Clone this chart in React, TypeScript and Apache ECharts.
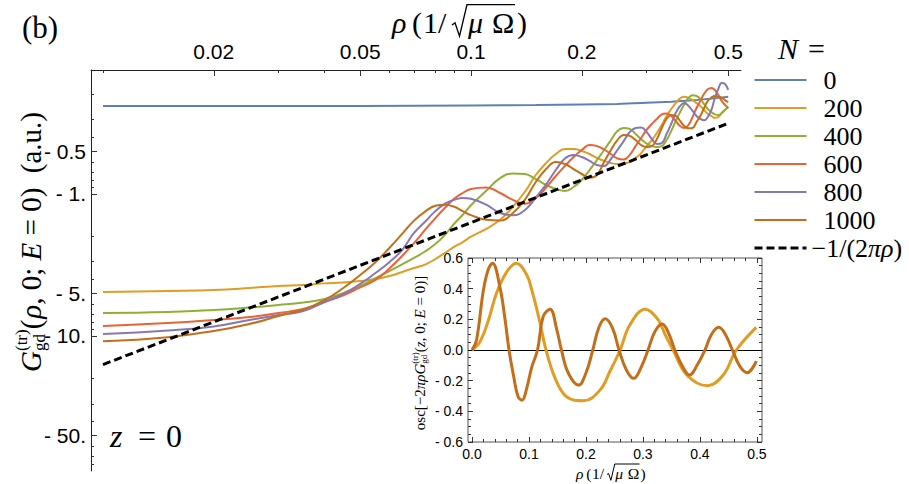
import React, { useEffect, useRef } from 'react';
import * as echarts from 'echarts';

const SERIF = "'Liberation Serif', 'Times New Roman', serif";
const SANS = "'Liberation Sans', Arial, sans-serif";

// ---------- data ----------
const N_NAMES = ['0', '200', '400', '600', '800', '1000'];
const N_COLORS = ['#5E81B5', '#E19C24', '#8FB032', '#EB6235', '#8778B3', '#C56E1A'];
const ASYM = '−1/(2πρ)';

// rho in units of 1/sqrt(mu Omega)
const rhoGrid = [0.01, 0.015, 0.02, 0.025, 0.03, 0.035, 0.04, 0.045, 0.05, 0.055, 0.06, 0.065, 0.07, 0.075, 0.08, 0.085, 0.09, 0.095,
  0.1, 0.11, 0.12, 0.13, 0.14, 0.15, 0.16, 0.17, 0.18, 0.19, 0.2, 0.21, 0.22, 0.23, 0.24, 0.25, 0.26, 0.27, 0.28, 0.29, 0.3,
  0.31, 0.32, 0.33, 0.34, 0.35, 0.36, 0.37, 0.38, 0.39, 0.4, 0.41, 0.42, 0.43, 0.44, 0.45, 0.46, 0.47, 0.48, 0.49, 0.5];

// |G| (a.u.), G is negative
const rhoN0 = [0.01, 0.05, 0.1, 0.15, 0.2, 0.25, 0.3, 0.35, 0.4, 0.45, 0.5];
const gN0 = [0.24, 0.24, 0.238, 0.236, 0.234, 0.232, 0.228, 0.224, 0.219, 0.213, 0.207];

const gN200 = [4.9, 4.82, 4.74, 4.59, 4.44, 4.37, 4.26, 4.2, 4.1, 3.97, 3.78, 3.54, 3.32, 3.14, 2.87, 2.6, 2.36, 2.18,
  2.0, 1.76, 1.52, 1.23, 0.968, 0.735, 0.605, 0.523, 0.482, 0.482, 0.498, 0.523, 0.558, 0.585, 0.605, 0.615, 0.61, 0.595, 0.558, 0.515, 0.46,
  0.417, 0.372, 0.326, 0.282, 0.252, 0.229, 0.212, 0.207, 0.2105, 0.218, 0.229, 0.24, 0.256, 0.273, 0.282, 0.291, 0.287, 0.269, 0.256, 0.244];
const gN400 = [6.89, 6.78, 6.56, 6.3, 6.05, 5.81, 5.48, 4.98, 4.44, 3.92, 3.49, 3.13, 2.82, 2.54, 2.25, 1.94, 1.62, 1.4,
  1.2, 0.95, 0.772, 0.717, 0.723, 0.785, 0.864, 0.922, 0.952, 0.893, 0.797, 0.678, 0.576, 0.49, 0.417, 0.36, 0.343, 0.348, 0.378, 0.41, 0.441,
  0.46, 0.467, 0.46, 0.417, 0.36, 0.306, 0.265, 0.233, 0.2105, 0.202, 0.204, 0.214, 0.233, 0.252, 0.265, 0.275, 0.278, 0.269, 0.256, 0.244];
const gN600 = [8.5, 8.1, 7.71, 7.35, 6.89, 6.46, 5.76, 5.18, 4.55, 4.03, 3.35, 2.73, 2.22, 1.79, 1.48, 1.25, 1.08, 0.984,
  0.922, 0.9, 0.984, 1.1, 1.17, 1.07, 0.9, 0.747, 0.635, 0.549, 0.49, 0.452, 0.46, 0.486, 0.523, 0.562, 0.571, 0.531, 0.46, 0.403, 0.354,
  0.321, 0.296, 0.275, 0.271, 0.282, 0.306, 0.332, 0.343, 0.326, 0.287, 0.248, 0.221, 0.197, 0.183, 0.179, 0.185, 0.201, 0.221, 0.236, 0.248];
const gN800 = [9.68, 9.14, 8.56, 7.71, 7.11, 6.67, 5.76, 5.06, 4.3, 3.6, 3.02, 2.48, 1.88, 1.57, 1.32, 1.17, 1.1, 1.065,
  1.08, 1.19, 1.36, 1.41, 1.3, 1.06, 0.855, 0.678, 0.562, 0.531, 0.549, 0.585, 0.625, 0.635, 0.567, 0.49, 0.424, 0.366, 0.343, 0.34, 0.366,
  0.41, 0.445, 0.438, 0.378, 0.321, 0.269, 0.24, 0.229, 0.24, 0.26, 0.282, 0.296, 0.303, 0.287, 0.256, 0.21, 0.182, 0.165, 0.168, 0.185];
const gN1000 = [10.9, 10.2, 9.22, 8.23, 7.23, 6.51, 5.58, 4.59, 3.72, 3.02, 2.4, 1.91, 1.54, 1.33, 1.21, 1.19, 1.23, 1.32,
  1.41, 1.52, 1.54, 1.36, 1.1, 0.823, 0.667, 0.595, 0.615, 0.667, 0.723, 0.766, 0.735, 0.595, 0.49, 0.417, 0.384, 0.39, 0.417, 0.452, 0.467,
  0.46, 0.41, 0.343, 0.296, 0.278, 0.282, 0.306, 0.332, 0.345, 0.343, 0.311, 0.282, 0.248, 0.221, 0.209, 0.204, 0.206, 0.21, 0.218, 0.225];

const asymRho = [0.01, 0.5];
const asymG = [15.9, 0.318];

// inset: osc[-2 pi rho G]
const insetRho200 = [0, 0.014, 0.029, 0.043, 0.061, 0.078, 0.096, 0.105, 0.118, 0.13, 0.146, 0.166, 0.196, 0.225, 0.242, 0.26, 0.277,
  0.304, 0.327, 0.339, 0.353, 0.377, 0.413, 0.441, 0.464, 0.499];
const inset200 = [0, 0.054, 0.196, 0.37, 0.51, 0.566, 0.49, 0.39, 0.2, 0, -0.185, -0.305, -0.331, -0.26, -0.14, 0, 0.163,
  0.266, 0.196, 0.1, 0, -0.163, -0.233, -0.163, 0, 0.148];
const insetRho1000 = [0, 0.008, 0.02, 0.029, 0.036, 0.049, 0.058, 0.065, 0.073, 0.081, 0.088, 0.096, 0.105, 0.115, 0.125, 0.137,
  0.149, 0.157, 0.169, 0.187, 0.2, 0.212, 0.223, 0.234, 0.247, 0.258, 0.271, 0.284, 0.296, 0.309, 0.321, 0.334, 0.345, 0.356, 0.37,
  0.382, 0.395, 0.409, 0.42, 0.433, 0.445, 0.457, 0.47, 0.483, 0.499];
const inset1000 = [0, 0.065, 0.39, 0.53, 0.566, 0.41, 0.2, 0, -0.17, -0.305, -0.327, -0.25, -0.11, 0, 0.218, 0.266,
  0.13, 0, -0.15, -0.229, -0.15, 0, 0.15, 0.203, 0.14, 0, -0.13, -0.185, -0.12, 0, 0.12, 0.17, 0.11, 0, -0.11,
  -0.163, -0.1, 0, 0.1, 0.148, 0.1, 0, -0.105, -0.148, -0.072];

// ticks
const xMajorTicks = [0.02, 0.05, 0.1, 0.2, 0.5];
const xMinorTicks = [0.01, 0.03, 0.04, 0.06, 0.07, 0.08, 0.09, 0.3, 0.4];
const yMajorTicks = [0.5, 1, 5, 10, 50];
const yMinorTicks = [0.2, 0.3, 0.4, 0.6, 0.7, 0.8, 0.9, 2, 3, 4, 6, 7, 8, 9, 20, 30, 40, 60, 70, 80];
const insetXTicks = [0, 0.1, 0.2, 0.3, 0.4, 0.5];
const insetXMinor = [0.02, 0.04, 0.06, 0.08, 0.12, 0.14, 0.16, 0.18, 0.22, 0.24, 0.26, 0.28, 0.32, 0.34, 0.36, 0.38, 0.42, 0.44, 0.46, 0.48];
const insetYTicks = [-0.6, -0.4, -0.2, 0, 0.2, 0.4, 0.6];
const insetYMinor = [-0.55, -0.5, -0.45, -0.35, -0.3, -0.25, -0.15, -0.1, -0.05, 0.05, 0.1, 0.15, 0.25, 0.3, 0.35, 0.45, 0.5, 0.55];

// ---------- helpers ----------
const lg = (v: number) => Math.log10(v);

let mctx: CanvasRenderingContext2D | null = null;
function measure(t: string, s: number, it = false) {
  if (!mctx) mctx = document.createElement('canvas').getContext('2d');
  mctx!.font = `${it ? 'italic ' : ''}${s}px ${SERIF}`;
  return mctx!.measureText(t).width;
}

function txt(t: string, x: number, y: number, s: number, it = false, align = 'left') {
  return {
    type: 'text', x, y, silent: true,
    style: {
      text: t, fontSize: s, fontFamily: SERIF, fontStyle: it ? 'italic' : 'normal', fill: '#000',
      align, verticalAlign: 'middle', textAlign: align, textVerticalAlign: 'middle',
    },
  };
}

type P = { t: string; s: number; it?: boolean; dy?: number; gap?: number };
type Piece = P | { stack: P[] };

function rotatedLabel(cx: number, cy: number, pieces: Piece[]) {
  const items: any[] = [];
  let x = 0;
  for (const p of pieces) {
    if ('stack' in p) {
      let w = 0;
      for (const q of p.stack) { items.push({ ...q, x }); w = Math.max(w, measure(q.t, q.s, q.it)); }
      x += w;
    } else {
      items.push({ ...p, x });
      x += measure(p.t, p.s, p.it) + (p.gap || 0);
    }
  }
  const width = x;
  return {
    type: 'group', x: cx, y: cy, rotation: Math.PI / 2,
    children: items.map((it) => txt(it.t, it.x - width / 2, it.dy || 0, it.s, !!it.it)),
  };
}

function makeRho(x0: number, yc: number, e: number) {
  const xr = x0 + 2.0 * e;
  return [
    txt('ρ', x0, yc, e, true),
    txt('(', x0 + 0.667 * e, yc, e),
    txt('1', x0 + 1.033 * e, yc, e),
    txt('/', x0 + 1.533 * e, yc, e),
    txt('μ', x0 + 2.533 * e, yc, e, true),
    txt('Ω', x0 + 3.333 * e, yc, e),
    txt(')', x0 + 4.167 * e, yc, e),
    {
      type: 'polyline', silent: true,
      shape: {
        points: [[xr, yc + 0.1 * e], [xr + 0.1 * e, yc + 0.03 * e], [xr + 0.25 * e, yc + 0.47 * e],
          [xr + 0.5 * e, yc - 0.58 * e], [x0 + 4.1 * e, yc - 0.58 * e]],
      },
      style: { stroke: '#000', lineWidth: Math.max(1, e / 22), fill: 'none' },
    },
  ];
}

function fmtMainX(v: number) {
  return String(Number(Math.pow(10, v).toPrecision(2)));
}
function fmtMainY(v: number) {
  const n = Number(Math.pow(10, v).toPrecision(2));
  return '- ' + (n < 1 ? String(n) : n + '.');
}
function fmtInsetY(v: number) {
  const r = Math.round(v * 10) / 10;
  return r < 0 ? '- ' + Math.abs(r).toFixed(1) : r.toFixed(1);
}

// axis ranges (frame geometry)
const X_MIN = -2.0326, X_MAX = -0.2663;
const Y_MIN = -0.8732, Y_MAX = 1.9507;
const IX_MIN = -0.007, IX_MAX = 0.509;

function buildOption(): any {
  const mainSets = [gN200, gN400, gN600, gN800, gN1000];
  const series: any[] = [];
  series.push({
    type: 'line', name: N_NAMES[0], xAxisIndex: 0, yAxisIndex: 0, symbol: 'none', smooth: 0.3,
    data: rhoN0.map((r, i) => [lg(r), lg(gN0[i])]),
    lineStyle: { width: 2, color: N_COLORS[0] }, itemStyle: { color: N_COLORS[0] },
  });
  mainSets.forEach((g, k) => {
    series.push({
      type: 'line', name: N_NAMES[k + 1], xAxisIndex: 0, yAxisIndex: 0, symbol: 'none', smooth: 0.45,
      data: rhoGrid.map((r, i) => [lg(r), lg(g[i])]),
      lineStyle: { width: 2, color: N_COLORS[k + 1] }, itemStyle: { color: N_COLORS[k + 1] },
    });
  });
  series.push({
    type: 'line', name: ASYM, xAxisIndex: 0, yAxisIndex: 0, symbol: 'none', z: 4,
    data: asymRho.map((r, i) => [lg(r), lg(asymG[i])]),
    lineStyle: { width: 3, color: '#000', type: [8, 4] }, itemStyle: { color: '#000' },
  });
  series.push({
    type: 'line', name: 'inset200', xAxisIndex: 2, yAxisIndex: 2, symbol: 'none', smooth: 0.4, z: 5,
    data: insetRho200.map((r, i) => [r, inset200[i]]),
    lineStyle: { width: 3, color: N_COLORS[1] }, itemStyle: { color: N_COLORS[1] },
    markLine: {
      silent: true, symbol: ['none', 'none'], label: { show: false },
      lineStyle: { color: '#000', width: 1, type: 'solid' }, data: [{ yAxis: 0 }],
    },
  });
  series.push({
    type: 'line', name: 'inset1000', xAxisIndex: 2, yAxisIndex: 2, symbol: 'none', smooth: 0.4, z: 6,
    data: insetRho1000.map((r, i) => [r, inset1000[i]]),
    lineStyle: { width: 3, color: N_COLORS[5] }, itemStyle: { color: N_COLORS[5] },
  });

  const tickCol = '#333';
  const hiddenAxis = (o: any) => ({
    type: 'value', axisLine: { show: false, onZero: false }, axisLabel: { show: false }, splitLine: { show: false }, ...o,
  });

  const xAxis: any[] = [
    {
      gridIndex: 0, type: 'value', position: 'top', min: X_MIN, max: X_MAX,
      axisLine: { show: true, onZero: false, lineStyle: { color: '#222', width: 1 } },
      axisTick: { show: true, inside: true, length: 6, customValues: xMajorTicks.map(lg), lineStyle: { color: tickCol } },
      axisLabel: { customValues: xMajorTicks.map(lg), formatter: fmtMainX, fontSize: 21, fontFamily: SANS, color: '#000', margin: 8 },
      splitLine: { show: false },
    },
    hiddenAxis({
      gridIndex: 0, position: 'top', min: X_MIN, max: X_MAX,
      axisTick: { show: true, inside: true, length: 3, customValues: xMinorTicks.map(lg), lineStyle: { color: tickCol } },
    }),
    {
      gridIndex: 1, type: 'value', position: 'bottom', min: IX_MIN, max: IX_MAX,
      axisLine: { show: false, onZero: false },
      axisTick: { show: true, inside: true, length: 5, customValues: insetXTicks, lineStyle: { color: tickCol } },
      axisLabel: { customValues: insetXTicks, formatter: (v: number) => v.toFixed(1), fontSize: 14, fontFamily: SANS, color: '#000', margin: 5 },
      splitLine: { show: false },
    },
    hiddenAxis({
      gridIndex: 1, position: 'bottom', min: IX_MIN, max: IX_MAX,
      axisTick: { show: true, inside: true, length: 3, customValues: insetXMinor, lineStyle: { color: tickCol } },
    }),
    hiddenAxis({
      gridIndex: 1, position: 'top', min: IX_MIN, max: IX_MAX,
      axisTick: { show: true, inside: true, length: 5, customValues: insetXTicks, lineStyle: { color: tickCol } },
    }),
    hiddenAxis({
      gridIndex: 1, position: 'top', min: IX_MIN, max: IX_MAX,
      axisTick: { show: true, inside: true, length: 3, customValues: insetXMinor, lineStyle: { color: tickCol } },
    }),
  ];
  const yAxis: any[] = [
    {
      gridIndex: 0, type: 'value', position: 'left', inverse: true, min: Y_MIN, max: Y_MAX,
      axisLine: { show: true, onZero: false, lineStyle: { color: '#222', width: 1 } },
      axisTick: { show: true, inside: true, length: 6, customValues: yMajorTicks.map(lg), lineStyle: { color: tickCol } },
      axisLabel: { customValues: yMajorTicks.map(lg), formatter: fmtMainY, fontSize: 21, fontFamily: SANS, color: '#000', margin: 5 },
      splitLine: { show: false },
    },
    hiddenAxis({
      gridIndex: 0, position: 'left', inverse: true, min: Y_MIN, max: Y_MAX,
      axisTick: { show: true, inside: true, length: 3, customValues: yMinorTicks.map(lg), lineStyle: { color: tickCol } },
    }),
    {
      gridIndex: 1, type: 'value', position: 'left', min: -0.6, max: 0.6,
      axisLine: { show: false, onZero: false },
      axisTick: { show: true, inside: true, length: 5, customValues: insetYTicks, lineStyle: { color: tickCol } },
      axisLabel: { customValues: insetYTicks, formatter: fmtInsetY, fontSize: 14, fontFamily: SANS, color: '#000', margin: 5 },
      splitLine: { show: false },
    },
    hiddenAxis({
      gridIndex: 1, position: 'left', min: -0.6, max: 0.6,
      axisTick: { show: true, inside: true, length: 3, customValues: insetYMinor, lineStyle: { color: tickCol } },
    }),
    hiddenAxis({
      gridIndex: 1, position: 'right', min: -0.6, max: 0.6,
      axisTick: { show: true, inside: true, length: 5, customValues: insetYTicks, lineStyle: { color: tickCol } },
    }),
    hiddenAxis({
      gridIndex: 1, position: 'right', min: -0.6, max: 0.6,
      axisTick: { show: true, inside: true, length: 3, customValues: insetYMinor, lineStyle: { color: tickCol } },
    }),
  ];

  const graphic: any[] = [
    txt('(b)', 22, 27, 31),
    ...makeRho(392, 22, 30),
    ...makeRho(576, 473, 15.5),
    rotatedLabel(31, 242, [
      { t: 'G', s: 29, it: true },
      { stack: [{ t: '(tr)', s: 17, dy: -10 }, { t: 'gd', s: 17, dy: 8 }] },
      { t: '(', s: 29, gap: 1 },
      { t: 'ρ', s: 29, it: true },
      { t: ', 0; ', s: 29 },
      { t: 'E', s: 29, it: true },
      { t: ' = 0)', s: 29 },
      { t: '  (a.u.)', s: 29 },
    ]),
    rotatedLabel(420, 353, [
      { t: 'osc[−2', s: 15 },
      { t: 'πρG', s: 15, it: true },
      { stack: [{ t: '(tr)', s: 9, dy: -5 }, { t: 'gd', s: 9, dy: 4 }] },
      { t: '(', s: 15 },
      { t: 'z', s: 15, it: true },
      { t: ', 0; ', s: 15 },
      { t: 'E', s: 15, it: true },
      { t: ' = 0)]', s: 15 },
    ]),
    txt('z', 110, 436, 32, true),
    txt('=', 138, 436, 32),
    txt('0', 166, 436, 32),
    txt('N', 778, 48, 30, true),
    txt('=', 808, 48, 30),
  ];

  return {
    animation: false,
    backgroundColor: '#fff',
    grid: [
      { left: 91, top: 70, width: 650, height: 401 },
      { left: 468, top: 258, width: 294, height: 184, show: true, backgroundColor: '#fff', borderColor: '#555', borderWidth: 1 },
    ],
    xAxis,
    yAxis,
    legend: {
      data: [...N_NAMES, ASYM],
      orient: 'vertical', left: 753, top: 67, padding: 0,
      itemWidth: 52, itemHeight: 14, itemGap: 2, selectedMode: false,
      itemStyle: { opacity: 0, borderWidth: 0 },
      lineStyle: { width: 'inherit' },
      formatter: (name: string) => (name === ASYM ? '{n|−1/(2}{i|πρ}{n|)}' : '{p|' + name + '}'),
      textStyle: {
        fontSize: 26, fontFamily: SERIF, color: '#000',
        rich: {
          n: { fontSize: 26, fontFamily: SERIF, color: '#000' },
          i: { fontSize: 26, fontFamily: SERIF, fontStyle: 'italic', color: '#000' },
          p: { fontSize: 26, fontFamily: SERIF, color: '#000', padding: [0, 0, 0, 12] },
        },
      },
    },
    graphic,
    series,
  };
}

export default function App() {
  const ref = useRef<HTMLDivElement>(null);
  useEffect(() => {
    const chart = echarts.init(ref.current!, null, { renderer: 'svg' });
    chart.setOption(buildOption());
    return () => chart.dispose();
  }, []);
  return (
    <div
      ref={ref}
      style={{ position: 'fixed', left: 0, top: 0, width: 909, height: 484, background: '#fff' }}
    />
  );
}
